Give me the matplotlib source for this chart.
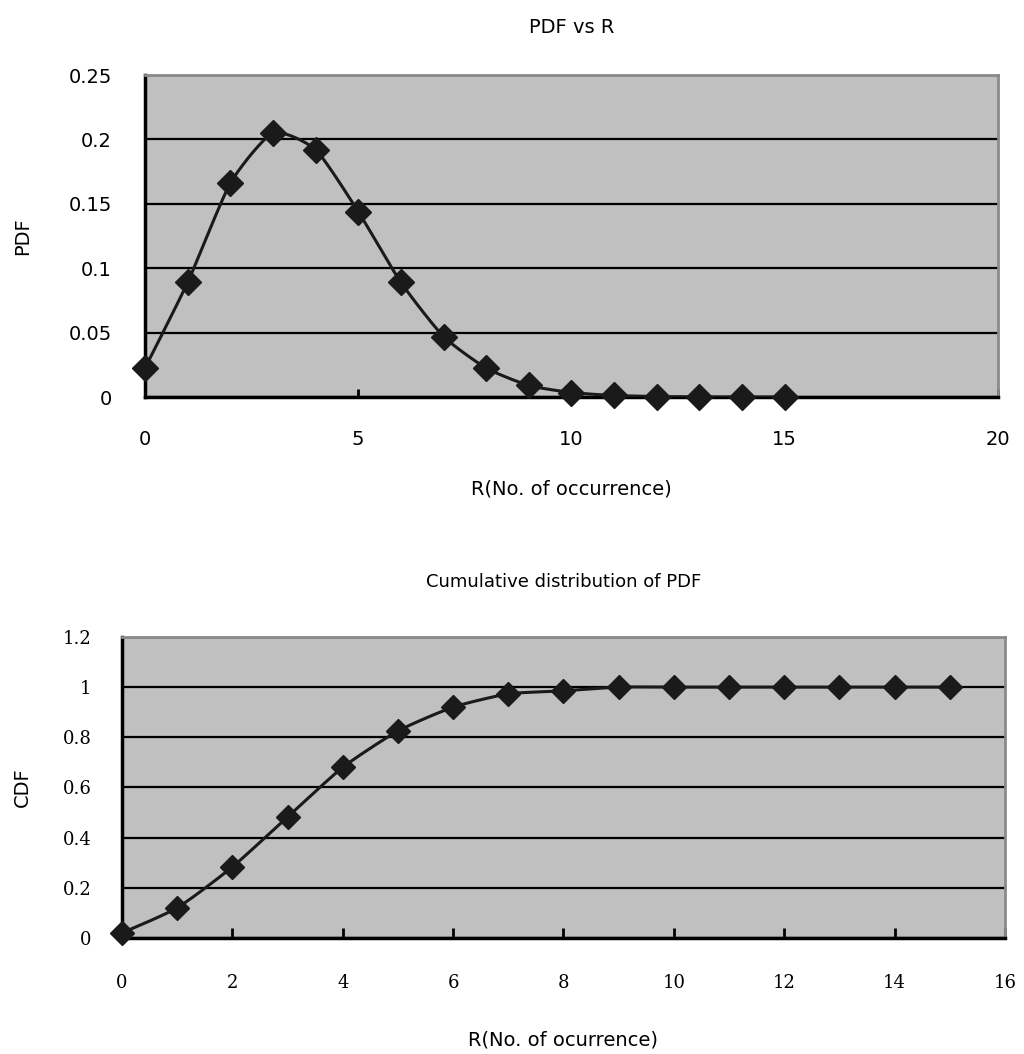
import numpy as np
import matplotlib.pyplot as plt

# values
r = [0, 1, 2, 3, 4, 5, 6, 7, 8, 9, 10, 11, 12, 13, 14, 15]
pdf = [0.0225, 0.089, 0.166, 0.205, 0.192, 0.144, 0.089, 0.047, 0.0225,
       0.009, 0.0035, 0.0012, 0.0004, 0.0001, 0.0, 0.0]
cdf = [0.02, 0.12, 0.283, 0.482, 0.68, 0.825, 0.92, 0.973, 0.985,
       1.0, 1.0, 1.0, 1.0, 1.0, 1.0, 1.0]

pdf_yticks = [0, 0.05, 0.1, 0.15, 0.2, 0.25]
pdf_ylabels = ['0', '0.05', '0.1', '0.15', '0.2', '0.25']
pdf_xticks = [0, 5, 10, 15, 20]
cdf_yticks = [0, 0.2, 0.4, 0.6, 0.8, 1, 1.2]
cdf_ylabels = ['0', '0.2', '0.4', '0.6', '0.8', '1', '1.2']
cdf_xticks = [0, 2, 4, 6, 8, 10, 12, 14, 16]


def smooth(x, y, n=20, k=0.6):
    # cubic bezier through the points, softened spreadsheet-style smoothing
    x = np.asarray(x, float)
    y = np.asarray(y, float)
    px = np.concatenate([[x[0]], x, [x[-1]]])
    py = np.concatenate([[y[0]], y, [y[-1]]])
    xs, ys = [], []
    t = np.linspace(0, 1, n)
    for i in range(1, len(px) - 2):
        for p, out in ((px, xs), (py, ys)):
            p0, p1, p2, p3 = p[i - 1], p[i], p[i + 1], p[i + 2]
            c1 = p1 + k * (p2 - p0) / 6
            c2 = p2 - k * (p3 - p1) / 6
            out.extend((1 - t) ** 3 * p1 + 3 * (1 - t) ** 2 * t * c1
                       + 3 * (1 - t) * t ** 2 * c2 + t ** 3 * p2)
    return xs, ys


def style(ax):
    ax.set_facecolor('#c0c0c0')
    for s in ['top', 'right']:
        ax.spines[s].set_color('#8a8a8a')
        ax.spines[s].set_linewidth(2)
    for s in ['left', 'bottom']:
        ax.spines[s].set_color('black')
        ax.spines[s].set_linewidth(2.5)
    ax.yaxis.grid(True, color='black', linewidth=1.6)
    ax.set_axisbelow(True)


fig = plt.figure(figsize=(10.24, 10.54), dpi=100)

# top: PDF vs R
ax1 = fig.add_axes([0.1416, 0.6233, 0.833, 0.3055])
style(ax1)
sx, sy = smooth(r, pdf)
ax1.plot(sx, sy, color='#1a1a1a', linewidth=2.2, zorder=3)
ax1.plot(r, pdf, linestyle='none', marker='D', markersize=13.5,
         color='#1a1a1a', clip_on=False, zorder=4)
ax1.set_xlim(0, 20)
ax1.set_ylim(0, 0.25)
ax1.set_xticks(pdf_xticks)
ax1.set_yticks(pdf_yticks)
ax1.set_yticklabels(pdf_ylabels)
ax1.tick_params(axis='x', direction='in', length=6, width=2, pad=24, labelsize=14)
ax1.tick_params(axis='y', length=0, pad=24, labelsize=14)
ax1.set_title('PDF vs R', fontsize=14, pad=30)
ax1.set_xlabel('R(No. of occurrence)', fontsize=14, labelpad=22)
ax1.set_ylabel('PDF', fontsize=14, labelpad=26)

# bottom: cumulative distribution
ax2 = fig.add_axes([0.1191, 0.1101, 0.8623, 0.2856])
style(ax2)
sx, sy = smooth(r, cdf)
ax2.plot(sx, sy, color='#1a1a1a', linewidth=2.2, zorder=3)
ax2.plot(r, cdf, linestyle='none', marker='D', markersize=12.5,
         color='#1a1a1a', clip_on=False, zorder=4)
ax2.set_xlim(0, 16)
ax2.set_ylim(0, 1.2)
ax2.set_xticks(cdf_xticks)
ax2.set_yticks(cdf_yticks)
ax2.set_yticklabels(cdf_ylabels)
ax2.tick_params(axis='x', direction='in', length=7, width=2, pad=26, labelsize=13)
ax2.tick_params(axis='y', length=0, pad=22, labelsize=13)
for lab in ax2.get_xticklabels() + ax2.get_yticklabels():
    lab.set_family('DejaVu Serif')
ax2.set_title('Cumulative distribution of PDF', fontsize=13, pad=36)
ax2.set_xlabel('R(No. of ocurrence)', fontsize=14, labelpad=28)
ax2.set_ylabel('CDF', fontsize=14, labelpad=22)

fig.savefig('out.png', dpi=100)
